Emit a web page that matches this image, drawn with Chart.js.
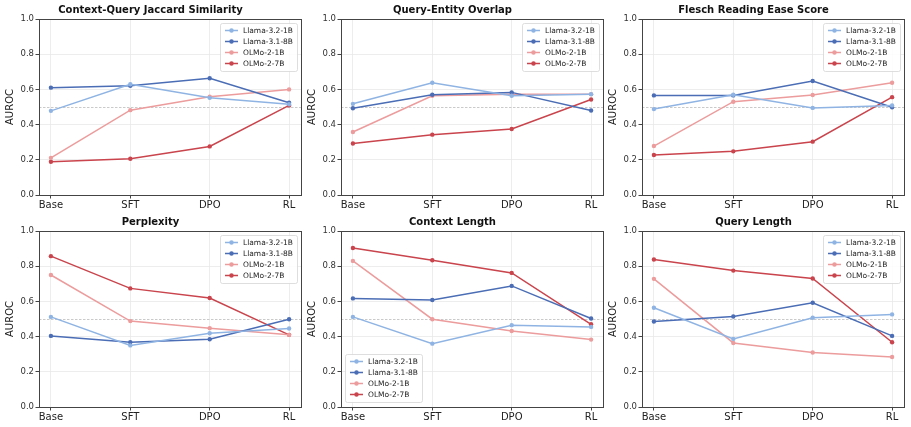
<!DOCTYPE html>
<html>
<head>
<meta charset="utf-8">
<script src="https://cdn.jsdelivr.net/npm/chart.js@4.4.1/dist/chart.umd.min.js"></script>
<style>
  body { margin: 0; background: #fff; width: 911px; height: 427px; position: relative; overflow: hidden; }
  canvas { position: absolute; }
</style>
</head>
<body>
<canvas id="c0" width="306" height="214" style="left:0px;top:0px"></canvas>
<canvas id="c1" width="306" height="214" style="left:302px;top:0px"></canvas>
<canvas id="c2" width="306" height="214" style="left:603px;top:0px"></canvas>
<canvas id="c3" width="306" height="214" style="left:0px;top:212px"></canvas>
<canvas id="c4" width="306" height="214" style="left:302px;top:212px"></canvas>
<canvas id="c5" width="306" height="214" style="left:603px;top:212px"></canvas>
<script>
// training stages on the x axis
const stages = ['Base', 'SFT', 'DPO', 'RL'];
const models = ['Llama-3.2-1B', 'Llama-3.1-8B', 'OLMo-2-1B', 'OLMo-2-7B'];
const modelColors = ['#8fb4e3', '#4a6db5', '#ec9c9c', '#c9444c'];
const yTicks = [0, 0.2, 0.4, 0.6, 0.8, 1.0];

// AUROC per metric, rows in the order of `models`
const jaccard = [
  [0.478, 0.629, 0.552, 0.516],
  [0.610, 0.621, 0.663, 0.524],
  [0.211, 0.482, 0.558, 0.600],
  [0.189, 0.206, 0.276, 0.509]
];
const entityOverlap = [
  [0.518, 0.638, 0.564, 0.573],
  [0.493, 0.570, 0.583, 0.480],
  [0.358, 0.564, 0.573, 0.573],
  [0.293, 0.343, 0.375, 0.543]
];
const flesch = [
  [0.488, 0.570, 0.495, 0.509],
  [0.566, 0.566, 0.648, 0.499],
  [0.278, 0.530, 0.568, 0.638],
  [0.227, 0.248, 0.303, 0.556]
];
const perplexity = [
  [0.512, 0.350, 0.419, 0.446],
  [0.404, 0.368, 0.385, 0.499],
  [0.750, 0.488, 0.448, 0.410],
  [0.857, 0.674, 0.619, 0.410]
];
const contextLength = [
  [0.512, 0.360, 0.465, 0.455],
  [0.617, 0.608, 0.688, 0.503],
  [0.830, 0.499, 0.432, 0.383],
  [0.903, 0.834, 0.762, 0.470]
];
const queryLength = [
  [0.564, 0.387, 0.507, 0.526],
  [0.486, 0.514, 0.592, 0.404],
  [0.728, 0.364, 0.310, 0.284],
  [0.838, 0.775, 0.730, 0.368]
];

const panels = [
  { id: 'c0', title: 'Context-Query Jaccard Similarity', values: jaccard, legend: 'tr' },
  { id: 'c1', title: 'Query-Entity Overlap', values: entityOverlap, legend: 'tr' },
  { id: 'c2', title: 'Flesch Reading Ease Score', values: flesch, legend: 'tr' },
  { id: 'c3', title: 'Perplexity', values: perplexity, legend: 'tr' },
  { id: 'c4', title: 'Context Length', values: contextLength, legend: 'bl' },
  { id: 'c5', title: 'Query Length', values: queryLength, legend: 'tr' }
];

Chart.defaults.font.family = "'DejaVu Sans', sans-serif";
Chart.defaults.color = '#333';

// frame on all four sides + dashed chance line at 0.5
const frameAndChance = {
  id: 'frameAndChance',
  beforeDatasetsDraw(chart) {
    const { ctx, chartArea: a, scales } = chart;
    const y = Math.round(scales.y.getPixelForValue(0.5)) + 0.5;
    ctx.save();
    ctx.strokeStyle = '#bdbdbd';
    ctx.lineWidth = 0.8;
    ctx.setLineDash([2.5, 1.5]);
    ctx.beginPath();
    ctx.moveTo(a.left, y);
    ctx.lineTo(a.right, y);
    ctx.stroke();
    ctx.restore();
  },
  afterDraw(chart) {
    const { ctx, chartArea: a } = chart;
    ctx.save();
    ctx.strokeStyle = '#444';
    ctx.lineWidth = 1;
    ctx.strokeRect(Math.round(a.left) + 0.5, Math.round(a.top) + 0.5,
      Math.round(a.right - a.left), Math.round(a.bottom - a.top));
    ctx.restore();
  }
};

// matplotlib-style legend box inside the axes
const insideLegend = {
  id: 'insideLegend',
  afterDatasetsDraw(chart, args, opts) {
    const { ctx, chartArea: a } = chart;
    const w = 77, h = 48, rowH = 11;
    const x0 = opts.corner === 'bl' ? a.left + 4 : a.right - 4 - w;
    const y0 = opts.corner === 'bl' ? a.bottom - 5 - h : a.top + 4;
    ctx.save();
    ctx.fillStyle = 'rgba(255,255,255,0.85)';
    ctx.strokeStyle = '#d6d6d6';
    ctx.lineWidth = 0.8;
    ctx.beginPath();
    ctx.roundRect(x0 + 0.5, y0 + 0.5, w, h, 2);
    ctx.fill();
    ctx.stroke();
    ctx.font = "7.5px 'DejaVu Sans', sans-serif";
    ctx.textBaseline = 'middle';
    chart.data.datasets.forEach((ds, i) => {
      const cy = y0 + 7.5 + i * rowH;
      ctx.strokeStyle = ds.borderColor;
      ctx.lineWidth = 1.5;
      ctx.beginPath();
      ctx.moveTo(x0 + 5, cy);
      ctx.lineTo(x0 + 18, cy);
      ctx.stroke();
      ctx.fillStyle = ds.borderColor;
      ctx.beginPath();
      ctx.arc(x0 + 11.5, cy, 2.2, 0, Math.PI * 2);
      ctx.fill();
      ctx.fillStyle = '#222';
      ctx.fillText(ds.label, x0 + 23, cy + 0.5);
    });
    ctx.restore();
  }
};

panels.forEach(p => {
  const ctx = document.getElementById(p.id).getContext('2d');
  new Chart(ctx, {
    type: 'line',
    data: {
      datasets: models.map((m, i) => ({
        label: m,
        data: p.values[i].map((v, j) => ({ x: j, y: v })),
        borderColor: modelColors[i],
        backgroundColor: modelColors[i],
        borderWidth: 1.5,
        pointRadius: 2.2,
        pointBorderWidth: 0,
        tension: 0
      }))
    },
    options: {
      responsive: false,
      animation: false,
      layout: { padding: { top: 0, right: 5, bottom: 0, left: 0 } },
      plugins: {
        legend: { display: false },
        tooltip: { enabled: false },
        title: {
          display: true,
          text: p.title,
          color: '#111',
          font: { size: 10, weight: 'bold' },
          padding: { top: 4, bottom: 3 }
        },
        insideLegend: { corner: p.legend }
      },
      scales: {
        x: {
          type: 'linear',
          min: -0.15,
          max: 3.15,
          afterBuildTicks: axis => { axis.ticks = stages.map((s, i) => ({ value: i })); },
          afterFit: axis => { axis.height = 19; },
          ticks: {
            callback: v => stages[v],
            font: { size: 10 },
            color: '#222',
            padding: 1,
            maxRotation: 0
          },
          grid: { color: '#e8e8e8', lineWidth: 0.8, tickColor: '#444', tickLength: 3.5, tickWidth: 1 },
          border: { display: true, color: '#444', width: 1 }
        },
        y: {
          min: 0,
          max: 1,
          afterBuildTicks: axis => { axis.ticks = yTicks.map(v => ({ value: v })); },
          afterFit: axis => { axis.width = 39; },
          ticks: {
            callback: v => v.toFixed(1),
            font: { size: 8.5 },
            color: '#333',
            padding: 1.5
          },
          title: {
            display: true,
            text: 'AUROC',
            font: { size: 10 },
            color: '#222',
            padding: { top: 4, bottom: 0 }
          },
          grid: { color: '#e8e8e8', lineWidth: 0.8, tickColor: '#444', tickLength: 3.5, tickWidth: 1 },
          border: { display: true, color: '#444', width: 1 }
        }
      }
    },
    plugins: [frameAndChance, insideLegend]
  });
});
</script>
</body>
</html>
